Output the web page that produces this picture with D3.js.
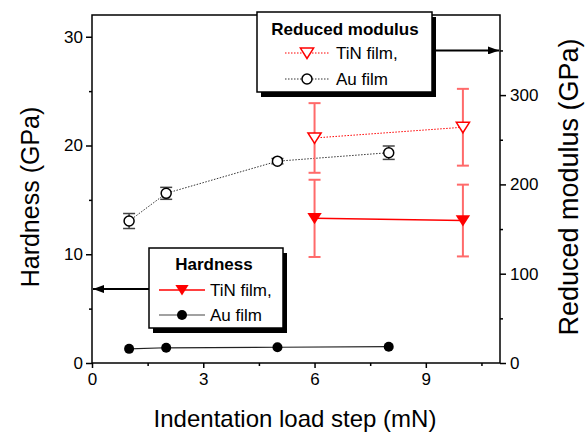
<!DOCTYPE html>
<html lang="en">
<head>
    <meta charset="UTF-8">
    <title>Hardness and reduced modulus</title>
    <style>
        body {
            margin: 0;
            background: #fff;
            font-family: "Liberation Sans", Arial, sans-serif;
        }

        .axis text {
            font-size: 17px;
            fill: #000;
        }

        .axis line, .axis path {
            stroke: #000;
            stroke-width: 1.5;
        }

        .label {
            font-size: 25px;
        }

        .legend-title {
            font-size: 17px;
            font-weight: bold;
        }

        .legend-text {
            font-size: 17px;
        }
    </style>
</head>
<body>
    <div id="plot"></div>

    <script src="https://d3js.org/d3.v7.min.js"></script>
    <script>
        // data
        const loadAu = [1, 2, 5, 8];
        const hardAu = [1.3, 1.4, 1.45, 1.5];
        const modAu = [159, 190, 226, 235.5];
        const modAuErr = [8.4, 6.7, 3, 7.5];

        const loadTiN = [6, 10];
        const hardTiN = [13.3, 13.1];
        const hardTiNErr = [3.55, 3.3];
        const modTiN = [252, 264];
        const modTiNErr = [39, 43];

        const xTicks = [0, 3, 6, 9];
        const xMinor = [1.5, 4.5, 7.5, 10.5];
        const hardTicks = [0, 10, 20, 30];
        const hardMinor = [5, 15, 25];
        const modTicks = [0, 100, 200, 300];
        const modMinor = [50, 150, 250, 350];

        const hardLegend = ["TiN film,", "Au film"];
        const modLegend = ["TiN film,", "Au film"];

        const width = 588;
        const height = 436;
        const margin = { top: 15, right: 88, bottom: 73, left: 92 };
        const red = "#ff0000";
        const redErr = "#ff6a6a";

        const x = d3.scaleLinear().domain([0, 11]).range([margin.left, width - margin.right]);
        const yH = d3.scaleLinear().domain([0, 32]).range([height - margin.bottom, margin.top]);
        const yM = d3.scaleLinear().domain([0, 389.7]).range([height - margin.bottom, margin.top]);

        const svg = d3.select('#plot')
            .append('svg')
            .attr('width', width)
            .attr('height', height);

        // filled arrow head, drawn in user units
        const defs = svg.append('defs');
        defs.append('marker')
            .attr('id', 'arrow')
            .attr('viewBox', '0 0 11 8')
            .attr('refX', 11)
            .attr('refY', 4)
            .attr('markerWidth', 11)
            .attr('markerHeight', 8)
            .attr('markerUnits', 'userSpaceOnUse')
            .attr('orient', 'auto')
            .append('path')
            .attr('d', 'M0,0 L11,4 L0,8 Z')
            .attr('fill', '#000');

        const bottom = height - margin.bottom;
        const right = width - margin.right;

        // frame
        svg.append('rect')
            .attr('x', margin.left)
            .attr('y', margin.top)
            .attr('width', right - margin.left)
            .attr('height', bottom - margin.top)
            .attr('fill', 'none')
            .attr('stroke', '#000')
            .attr('stroke-width', 1.5);

        // axes
        svg.append('g')
            .attr('class', 'x axis')
            .attr('transform', `translate(0, ${bottom})`)
            .call(d3.axisBottom(x).tickValues(xTicks).tickSize(5).tickPadding(5))
            .select('.domain').remove();

        svg.append('g')
            .attr('class', 'x axis minor')
            .attr('transform', `translate(0, ${bottom})`)
            .call(d3.axisBottom(x).tickValues(xMinor).tickSize(3).tickFormat(''))
            .select('.domain').remove();

        svg.append('g')
            .attr('class', 'y axis')
            .attr('transform', `translate(${margin.left}, 0)`)
            .call(d3.axisLeft(yH).tickValues(hardTicks).tickSize(6).tickPadding(3))
            .select('.domain').remove();

        svg.append('g')
            .attr('class', 'y axis minor')
            .attr('transform', `translate(${margin.left}, 0)`)
            .call(d3.axisLeft(yH).tickValues(hardMinor).tickSize(3).tickFormat(''))
            .select('.domain').remove();

        svg.append('g')
            .attr('class', 'y2 axis')
            .attr('transform', `translate(${right}, 0)`)
            .call(d3.axisRight(yM).tickValues(modTicks).tickSize(6).tickPadding(4))
            .select('.domain').remove();

        svg.append('g')
            .attr('class', 'y2 axis minor')
            .attr('transform', `translate(${right}, 0)`)
            .call(d3.axisRight(yM).tickValues(modMinor).tickSize(3).tickFormat(''))
            .select('.domain').remove();

        // axis titles
        svg.append('text')
            .attr('class', 'label')
            .style('font-size', '24px')
            .attr('x', (margin.left + right) / 2 - 1)
            .attr('y', 427)
            .attr('text-anchor', 'middle')
            .text('Indentation load step (mN)');

        svg.append('text')
            .attr('class', 'label')
            .attr('transform', 'translate(39, 197) rotate(-90)')
            .attr('text-anchor', 'middle')
            .text('Hardness (GPa)');

        svg.append('text')
            .attr('class', 'label')
            .style('font-size', '27px')
            .attr('transform', 'translate(578, 187) rotate(-90)')
            .attr('text-anchor', 'middle')
            .text('Reduced modulus (GPa)');

        // helpers
        const triDown = (cx, cy, s) =>
            `M${cx - s * 0.6},${cy - s * 0.45} L${cx + s * 0.6},${cy - s * 0.45} L${cx},${cy + s * 0.5} Z`;

        const errorBars = (xs, ys, errs, yScale, color, width) => {
            const g = svg.append('g').attr('stroke', color).attr('stroke-width', width);
            xs.forEach((xv, i) => {
                const cx = x(xv);
                const lo = yScale(ys[i] - errs[i]);
                const hi = yScale(ys[i] + errs[i]);
                g.append('line').attr('x1', cx).attr('x2', cx).attr('y1', lo).attr('y2', hi);
                g.append('line').attr('x1', cx - 6).attr('x2', cx + 6).attr('y1', lo).attr('y2', lo);
                g.append('line').attr('x1', cx - 6).attr('x2', cx + 6).attr('y1', hi).attr('y2', hi);
            });
        };

        const line = (xs, ys, yScale) => d3.line()
            .x((d, i) => x(xs[i]))
            .y(d => yScale(d))(ys);

        // reduced modulus, Au film
        errorBars(loadAu, modAu, modAuErr, yM, '#444', 1.5);
        svg.append('path')
            .attr('d', line(loadAu, modAu, yM))
            .attr('fill', 'none')
            .attr('stroke', '#333')
            .attr('stroke-width', 1)
            .attr('stroke-dasharray', '1.5,1.5');
        svg.selectAll('.mod-au')
            .data(modAu)
            .enter()
            .append('circle')
            .attr('class', 'mod-au')
            .attr('cx', (d, i) => x(loadAu[i]))
            .attr('cy', d => yM(d))
            .attr('r', 5)
            .attr('fill', '#fff')
            .attr('stroke', '#000')
            .attr('stroke-width', 1.5);

        // reduced modulus, TiN film
        errorBars(loadTiN, modTiN, modTiNErr, yM, redErr, 2);
        svg.append('path')
            .attr('d', line(loadTiN, modTiN, yM))
            .attr('fill', 'none')
            .attr('stroke', red)
            .attr('stroke-width', 1)
            .attr('stroke-dasharray', '1.5,1.5');
        svg.selectAll('.mod-tin')
            .data(modTiN)
            .enter()
            .append('path')
            .attr('class', 'mod-tin')
            .attr('d', (d, i) => triDown(x(loadTiN[i]), yM(d), 11))
            .attr('fill', '#fff')
            .attr('stroke', red)
            .attr('stroke-width', 1.5);

        // hardness, TiN film
        errorBars(loadTiN, hardTiN, hardTiNErr, yH, redErr, 2);
        svg.append('path')
            .attr('d', line(loadTiN, hardTiN, yH))
            .attr('fill', 'none')
            .attr('stroke', red)
            .attr('stroke-width', 1.5);
        svg.selectAll('.hard-tin')
            .data(hardTiN)
            .enter()
            .append('path')
            .attr('class', 'hard-tin')
            .attr('d', (d, i) => triDown(x(loadTiN[i]), yH(d), 12))
            .attr('fill', red);

        // hardness, Au film
        svg.append('path')
            .attr('d', line(loadAu, hardAu, yH))
            .attr('fill', 'none')
            .attr('stroke', '#222')
            .attr('stroke-width', 1.2);
        svg.selectAll('.hard-au')
            .data(hardAu)
            .enter()
            .append('circle')
            .attr('class', 'hard-au')
            .attr('cx', (d, i) => x(loadAu[i]))
            .attr('cy', d => yH(d))
            .attr('r', 5)
            .attr('fill', '#000');

        // legends
        const legendBox = (bx, by, bw, bh) => {
            svg.append('rect')
                .attr('x', bx + 4).attr('y', by + 5)
                .attr('width', bw).attr('height', bh)
                .attr('fill', '#000');
            svg.append('rect')
                .attr('x', bx).attr('y', by)
                .attr('width', bw).attr('height', bh)
                .attr('fill', '#fff')
                .attr('stroke', '#000')
                .attr('stroke-width', 1.5);
        };

        // hardness legend + arrow to left axis
        svg.append('line')
            .attr('x1', 150).attr('x2', margin.left + 1)
            .attr('y1', yH(6.8)).attr('y2', yH(6.8))
            .attr('stroke', '#000')
            .attr('stroke-width', 2)
            .attr('marker-end', 'url(#arrow)');
        legendBox(149, 248, 134, 80);
        svg.append('text')
            .attr('class', 'legend-title')
            .attr('x', 214).attr('y', 270)
            .attr('text-anchor', 'middle')
            .text('Hardness');
        svg.append('line')
            .attr('x1', 159).attr('x2', 205).attr('y1', 290).attr('y2', 290)
            .attr('stroke', red).attr('stroke-width', 1.5);
        svg.append('path')
            .attr('d', triDown(182, 290, 11))
            .attr('fill', red);
        svg.append('line')
            .attr('x1', 159).attr('x2', 205).attr('y1', 315).attr('y2', 315)
            .attr('stroke', '#444').attr('stroke-width', 1.2);
        svg.append('circle')
            .attr('cx', 182).attr('cy', 315).attr('r', 5)
            .attr('fill', '#000');
        svg.selectAll('.hard-leg')
            .data(hardLegend)
            .enter()
            .append('text')
            .attr('class', 'legend-text')
            .attr('x', 210)
            .attr('y', (d, i) => 296 + i * 25)
            .text(d => d);

        // modulus legend + arrow to right axis
        svg.append('line')
            .attr('x1', 431).attr('x2', right - 1)
            .attr('y1', yM(350)).attr('y2', yM(350))
            .attr('stroke', '#000')
            .attr('stroke-width', 2)
            .attr('marker-end', 'url(#arrow)');
        legendBox(257, 12, 175, 80);
        svg.append('text')
            .attr('class', 'legend-title')
            .attr('x', 345).attr('y', 35)
            .attr('text-anchor', 'middle')
            .text('Reduced modulus');
        svg.append('line')
            .attr('x1', 285).attr('x2', 329).attr('y1', 53).attr('y2', 53)
            .attr('stroke', red).attr('stroke-width', 1)
            .attr('stroke-dasharray', '1.5,1.5');
        svg.append('path')
            .attr('d', triDown(307, 53, 11))
            .attr('fill', '#fff')
            .attr('stroke', red)
            .attr('stroke-width', 1.5);
        svg.append('line')
            .attr('x1', 285).attr('x2', 329).attr('y1', 79).attr('y2', 79)
            .attr('stroke', '#333').attr('stroke-width', 1)
            .attr('stroke-dasharray', '1.5,1.5');
        svg.append('circle')
            .attr('cx', 307).attr('cy', 79).attr('r', 5)
            .attr('fill', '#fff')
            .attr('stroke', '#000')
            .attr('stroke-width', 1.5);
        svg.selectAll('.mod-leg')
            .data(modLegend)
            .enter()
            .append('text')
            .attr('class', 'legend-text')
            .attr('x', 336)
            .attr('y', (d, i) => 59 + i * 26)
            .text(d => d);
    </script>
</body>
</html>
